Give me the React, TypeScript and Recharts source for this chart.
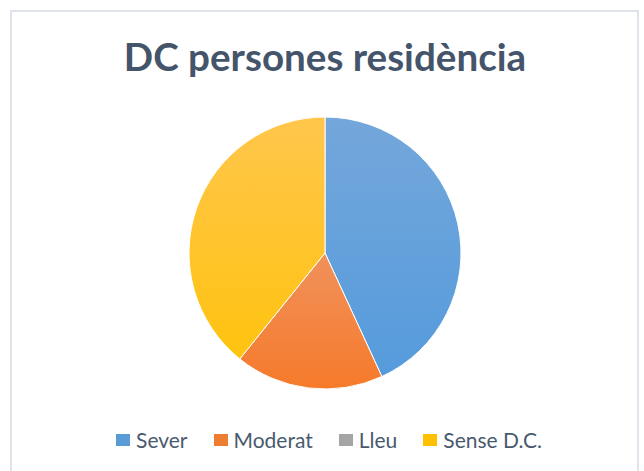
import { PieChart, Pie, Cell } from "recharts"

const categories = ["Sever", "Moderat", "Lleu", "Sense D.C."]
const values = [22, 9, 0, 20]
const legendColors = ["#5b9bd5", "#ed7d31", "#a5a5a5", "#ffc000"]
const gradTop = ["#74a7db", "#f0915c", "#a9a9a9", "#ffc64c"]
const gradBottom = ["#559bdc", "#f67a2a", "#a2a2a2", "#ffc30f"]

const data = categories.map((name, i) => ({ name, value: values[i] }))

export default function App() {
  return (
    <div style={{ position: "absolute", left: 0, top: 0, width: 644, height: 471, background: "#fff", overflow: "hidden" }}>
      <div
        style={{
          position: "absolute",
          left: 10,
          top: 10,
          width: 629,
          height: 480,
          border: "2px solid #dfe3ea",
          boxSizing: "border-box",
        }}
      />
      <div
        style={{
          position: "absolute",
          left: 0,
          top: 33,
          width: 650,
          textAlign: "center",
          fontFamily: "Lato, sans-serif",
          fontWeight: 700,
          fontSize: 38.6,
          color: "#44546a",
          lineHeight: "46px",
        }}
      >
        DC persones residència
      </div>
      <div style={{ position: "absolute", left: 0, top: 0 }}>
        <PieChart width={644} height={471} margin={{ top: 0, right: 0, bottom: 0, left: 0 }}>
          <defs>
            {categories.map((c, i) => (
              <linearGradient key={c} id={`g${i}`} x1="0" y1="0" x2="0" y2="1">
                <stop offset="0%" stopColor={gradTop[i]} />
                <stop offset="100%" stopColor={gradBottom[i]} />
              </linearGradient>
            ))}
          </defs>
          <Pie
            data={data}
            dataKey="value"
            nameKey="name"
            cx={325}
            cy={253}
            outerRadius={136}
            startAngle={90}
            endAngle={-270}
            stroke="#fff"
            strokeWidth={1}
            isAnimationActive={false}
          >
            {data.map((d, i) => (
              <Cell key={d.name} fill={`url(#g${i})`} />
            ))}
          </Pie>
        </PieChart>
      </div>
      <div
        style={{
          position: "absolute",
          left: 7,
          top: 427,
          width: 644,
          display: "flex",
          justifyContent: "center",
          gap: 26,
          fontFamily: "Lato, sans-serif",
          fontSize: 21,
          color: "#4a5a6e",
        }}
      >
        {categories.map((c, i) => (
          <div key={c} style={{ display: "flex", alignItems: "center" }}>
            <span style={{ width: 14, height: 12, background: legendColors[i], marginRight: 6, display: "inline-block" }} />
            <span>{c}</span>
          </div>
        ))}
      </div>
    </div>
  )
}
